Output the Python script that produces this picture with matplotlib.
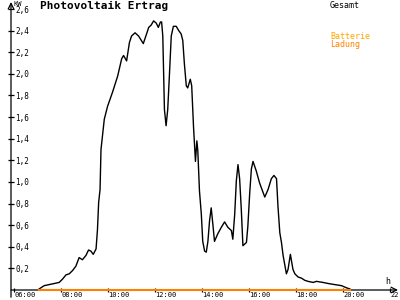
import matplotlib
matplotlib.use('Agg')
import matplotlib.pyplot as plt

# PV yield over the day (hours, kW)
hours = [7.07, 7.28, 7.49, 7.71, 7.92, 8.06, 8.21, 8.35, 8.49, 8.63,
         8.77, 8.91, 9.06, 9.17, 9.27, 9.37, 9.49, 9.55, 9.60, 9.66,
         9.70, 9.84, 9.98, 10.19, 10.41, 10.58, 10.66, 10.79, 10.91, 11.00,
         11.15, 11.30, 11.50, 11.64, 11.73, 11.83, 11.94, 12.05, 12.14, 12.23,
         12.28, 12.33, 12.40, 12.47, 12.54, 12.61, 12.69, 12.78, 12.90, 13.01,
         13.11, 13.18, 13.25, 13.33, 13.39, 13.50, 13.56, 13.64, 13.72, 13.78,
         13.82, 13.89, 13.97, 14.03, 14.11, 14.18, 14.25, 14.32, 14.39, 14.46,
         14.53, 14.67, 14.82, 14.96, 15.10, 15.25, 15.31, 15.39, 15.46, 15.53,
         15.60, 15.67, 15.74, 15.89, 15.95, 16.03, 16.10, 16.17, 16.31, 16.45,
         16.67, 16.81, 16.95, 17.06, 17.17, 17.23, 17.31, 17.38, 17.45, 17.59,
         17.66, 17.76, 17.87, 17.95, 18.09, 18.23, 18.37, 18.51, 18.73, 18.87,
         19.15, 19.37, 19.65, 19.94, 20.15, 20.29]
kw = [0.01, 0.04, 0.05, 0.06, 0.07, 0.10, 0.14, 0.15, 0.18, 0.22,
      0.30, 0.28, 0.32, 0.37, 0.36, 0.33, 0.38, 0.56, 0.81, 0.93,
      1.30, 1.58, 1.70, 1.83, 1.98, 2.14, 2.17, 2.12, 2.29, 2.35,
      2.38, 2.35, 2.28, 2.37, 2.43, 2.45, 2.49, 2.47, 2.43, 2.48,
      2.48, 2.35, 1.67, 1.52, 1.67, 1.98, 2.35, 2.44, 2.44, 2.40,
      2.37, 2.31, 2.09, 1.89, 1.87, 1.95, 1.89, 1.50, 1.19, 1.38,
      1.29, 0.92, 0.70, 0.45, 0.36, 0.35, 0.45, 0.64, 0.76, 0.61,
      0.45, 0.52, 0.58, 0.63, 0.58, 0.55, 0.47, 0.70, 1.01, 1.16,
      1.03, 0.75, 0.41, 0.44, 0.59, 0.90, 1.12, 1.19, 1.10, 0.99,
      0.86, 0.93, 1.03, 1.06, 1.03, 0.78, 0.53, 0.44, 0.32, 0.15,
      0.19, 0.33, 0.19, 0.15, 0.12, 0.11, 0.09, 0.08, 0.07, 0.08,
      0.07, 0.06, 0.05, 0.04, 0.02, 0.01]

# battery charging: flat zero over the same period
ladung_hours = [7.07, 20.29]
ladung_kw = [0.0, 0.0]

x_ticks = [6, 8, 10, 12, 14, 16, 18, 20, 22]
x_labels = ['06:00', '08:00', '10:00', '12:00', '14:00', '16:00', '18:00', '20:00', '22:00']
y_ticks = [0.2, 0.4, 0.6, 0.8, 1.0, 1.2, 1.4, 1.6, 1.8, 2.0, 2.2, 2.4, 2.6]
y_labels = ['0,2', '0,4', '0,6', '0,8', '1,0', '1,2', '1,4', '1,6', '1,8', '2,0', '2,2', '2,4', '2,6']

plt.rcParams['font.family'] = 'DejaVu Sans Mono'

fig = plt.figure(figsize=(4, 3), dpi=100)
ax = fig.add_axes([11/400, 10/300, 387/400, 288/300])
ax.set_xlim(5.87, 22.34)
ax.set_ylim(0, 2.665)
for s in ax.spines.values():
    s.set_visible(False)

ax.plot(hours, kw, color='black', lw=1)
ax.plot(ladung_hours, ladung_kw, color='#ff8000', lw=1.5, clip_on=False, zorder=4)

# axes with arrow heads
ax.annotate('', xy=(1, 0), xytext=(0, 0), xycoords='axes fraction',
            arrowprops=dict(arrowstyle='->', lw=0.9, color='black', shrinkA=0, shrinkB=0))
ax.annotate('', xy=(0, 1), xytext=(0, -0.025), xycoords='axes fraction',
            arrowprops=dict(arrowstyle='->', lw=0.9, color='black', shrinkA=0, shrinkB=0))

ax.set_xticks(x_ticks)
ax.set_xticklabels(x_labels, ha='left', fontsize=5)
ax.set_yticks(y_ticks)
ax.set_yticklabels(y_labels, ha='left', fontsize=5.5)
ax.tick_params(axis='both', direction='inout', length=4, width=0.9, color='black')
ax.tick_params(axis='x', length=3, pad=0)
ax.tick_params(axis='y', pad=-5)

fig.text(40/400, 1 - 1/300, 'Photovoltaik Ertrag', fontsize=8, fontweight='bold', va='top', ha='left')
fig.text(13/400, 1 - 1/300, 'KW', fontsize=5, va='top', ha='left')
fig.text(385/400, 1 - 277/300, 'h', fontsize=6, va='top', ha='left')
fig.text(330/400, 1 - 1/300, 'Gesamt', fontsize=6, va='top', ha='left', color='black')
fig.text(330/400, 1 - 32/300, 'Batterie', fontsize=6, va='top', ha='left', color='#ffa500')
fig.text(330/400, 1 - 40/300, 'Ladung', fontsize=6, va='top', ha='left', color='#ff8000')

fig.savefig('out.png', dpi=100)
